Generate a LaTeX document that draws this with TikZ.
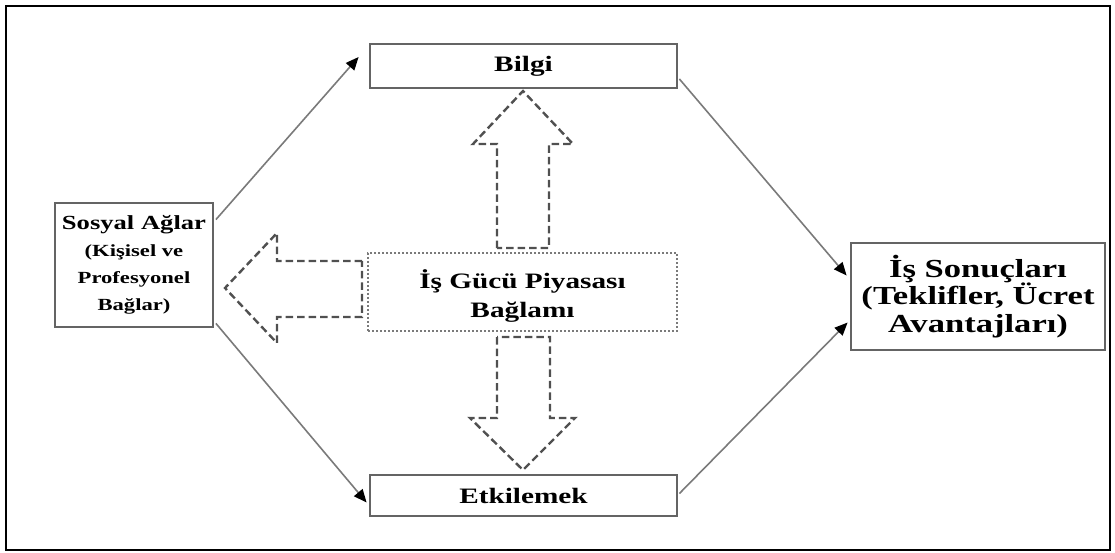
\documentclass[tikz,border=0pt]{standalone}
\usepackage{fontspec}
\setmainfont[FakeStretch=1.33]{Liberation Serif}
\usetikzlibrary{arrows.meta,calc}
\definecolor{boxgray}{HTML}{646464}
\definecolor{conngray}{HTML}{7A7A7A}
\definecolor{dashgray}{HTML}{505050}
\definecolor{dotgray}{HTML}{7A7A7A}
\begin{document}
\begin{tikzpicture}[x=1pt,y=-1pt,
  box/.style={draw=boxgray, line width=2.8pt, fill=white, inner sep=0pt, align=center},
  conn/.style={draw=conngray, line width=1.6pt, -{Triangle[length=13pt,width=11pt,color=black]}},
  bigarrow/.style={draw=dashgray, line width=2.4pt, dash pattern=on 7.5pt off 4pt, line join=miter},
  ctx/.style={draw=dotgray, line width=2.2pt, dash pattern=on 2pt off 2pt, inner sep=0pt},
  title/.style={font=\bfseries\fontsize{22}{29}\selectfont, align=center}
]
\useasboundingbox (0,0) rectangle (1115,553);
\draw[black, line width=1.5pt] (6,6) rectangle (1110,550);

% dashed block arrows
\draw[bigarrow] (497,248) -- (497,144) -- (473,144) -- (523,91) -- (573,144) -- (549,144) -- (549,248) -- cycle;
\draw[bigarrow] (497,337) -- (497,418) -- (470,418) -- (523,470) -- (575,418) -- (550,418) -- (550,337) -- cycle;
\draw[bigarrow] (362,261) -- (277,261) -- (277,233) -- (225,288) -- (277,343) -- (277,317) -- (362,317) -- cycle;

% boxes
\node[box, title, minimum width=307, minimum height=44] (bil) at (523.5,66) {Bilgi};
\node[box, title, minimum width=307, minimum height=41] (etk) at (523.5,495.5) {Etkilemek};
\node[ctx, minimum width=309, minimum height=78, fill=white] (ctxn) at (522.5,292) {};
\node[title, inner sep=0pt] (ctxt) at ([yshift=-4pt]ctxn.center) {İş Gücü Piyasası\\Bağlamı};
\node[box, font=\bfseries\fontsize{17}{27}\selectfont, minimum width=158, minimum height=124] (sos) at (134,265)
  {{\fontsize{20}{27}\selectfont Sosyal Ağlar}\\(Kişisel ve\\Profesyonel\\Bağlar)};
\node[box, font=\bfseries\fontsize{26}{27.5}\selectfont, minimum width=254, minimum height=107] (iss) at (978,296.5)
  {İş Sonuçları\\(Teklifler, Ücret\\Avantajları)};

% connectors
\draw[conn] ([xshift=1.5pt,yshift=-18pt]sos.north east) -- ([xshift=-10pt,yshift=9pt]bil.west);
\draw[conn] ([xshift=1.5pt,yshift=5pt]sos.south east) -- ([xshift=-2pt,yshift=-7pt]etk.west);
\draw[conn] ([xshift=1pt,yshift=-13pt]bil.east) -- ([xshift=-3pt,yshift=21pt]iss.west);
\draw[conn] ([xshift=1pt,yshift=2pt]etk.east) -- ([xshift=-2pt,yshift=-26pt]iss.west);
\end{tikzpicture}
\end{document}
